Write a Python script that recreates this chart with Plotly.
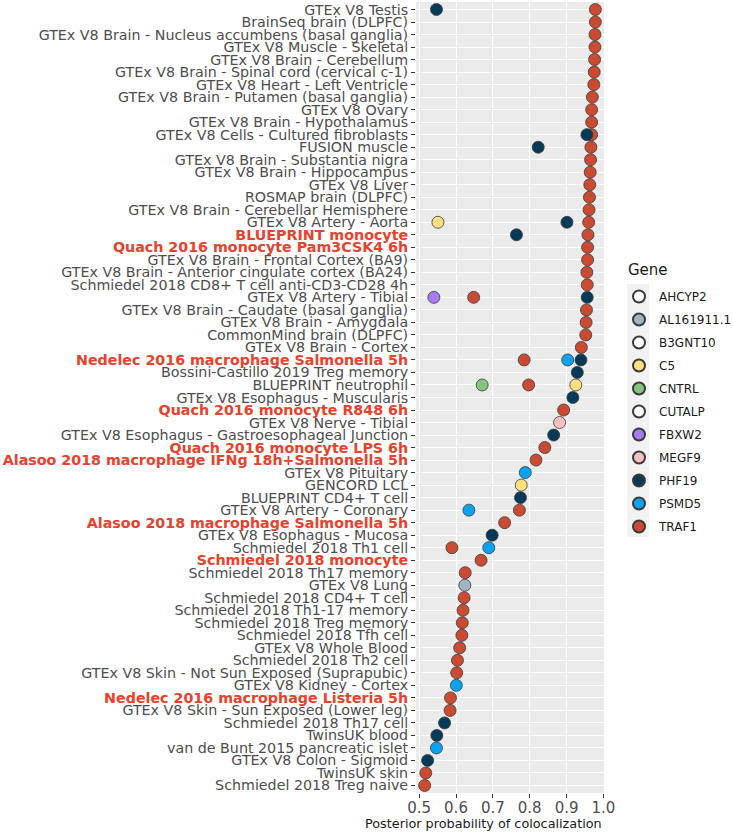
import plotly.graph_objects as go

# Study rows, top to bottom
studies = [
    "GTEx V8 Testis", "BrainSeq brain (DLPFC)", "GTEx V8 Brain - Nucleus accumbens (basal ganglia)",
    "GTEx V8 Muscle - Skeletal", "GTEx V8 Brain - Cerebellum", "GTEx V8 Brain - Spinal cord (cervical c-1)",
    "GTEx V8 Heart - Left Ventricle", "GTEx V8 Brain - Putamen (basal ganglia)", "GTEx V8 Ovary",
    "GTEx V8 Brain - Hypothalamus", "GTEx V8 Cells - Cultured fibroblasts", "FUSION muscle",
    "GTEx V8 Brain - Substantia nigra", "GTEx V8 Brain - Hippocampus", "GTEx V8 Liver",
    "ROSMAP brain (DLPFC)", "GTEx V8 Brain - Cerebellar Hemisphere", "GTEx V8 Artery - Aorta",
    "BLUEPRINT monocyte", "Quach 2016 monocyte Pam3CSK4 6h", "GTEx V8 Brain - Frontal Cortex (BA9)",
    "GTEx V8 Brain - Anterior cingulate cortex (BA24)", "Schmiedel 2018 CD8+ T cell anti-CD3-CD28 4h",
    "GTEx V8 Artery - Tibial", "GTEx V8 Brain - Caudate (basal ganglia)", "GTEx V8 Brain - Amygdala",
    "CommonMind brain (DLPFC)", "GTEx V8 Brain - Cortex", "Nedelec 2016 macrophage Salmonella 5h",
    "Bossini-Castillo 2019 Treg memory", "BLUEPRINT neutrophil", "GTEx V8 Esophagus - Muscularis",
    "Quach 2016 monocyte R848 6h", "GTEx V8 Nerve - Tibial", "GTEx V8 Esophagus - Gastroesophageal Junction",
    "Quach 2016 monocyte LPS 6h", "Alasoo 2018 macrophage IFNg 18h+Salmonella 5h", "GTEx V8 Pituitary",
    "GENCORD LCL", "BLUEPRINT CD4+ T cell", "GTEx V8 Artery - Coronary", "Alasoo 2018 macrophage Salmonella 5h",
    "GTEx V8 Esophagus - Mucosa", "Schmiedel 2018 Th1 cell", "Schmiedel 2018 monocyte",
    "Schmiedel 2018 Th17 memory", "GTEx V8 Lung", "Schmiedel 2018 CD4+ T cell", "Schmiedel 2018 Th1-17 memory",
    "Schmiedel 2018 Treg memory", "Schmiedel 2018 Tfh cell", "GTEx V8 Whole Blood", "Schmiedel 2018 Th2 cell",
    "GTEx V8 Skin - Not Sun Exposed (Suprapubic)", "GTEx V8 Kidney - Cortex", "Nedelec 2016 macrophage Listeria 5h",
    "GTEx V8 Skin - Sun Exposed (Lower leg)", "Schmiedel 2018 Th17 cell", "TwinsUK blood",
    "van de Bunt 2015 pancreatic islet", "GTEx V8 Colon - Sigmoid", "TwinsUK skin", "Schmiedel 2018 Treg naive",
]

highlighted = [
    "BLUEPRINT monocyte", "Quach 2016 monocyte Pam3CSK4 6h", "Nedelec 2016 macrophage Salmonella 5h",
    "Quach 2016 monocyte R848 6h", "Quach 2016 monocyte LPS 6h", "Alasoo 2018 macrophage IFNg 18h+Salmonella 5h",
    "Alasoo 2018 macrophage Salmonella 5h", "Schmiedel 2018 monocyte", "Nedelec 2016 macrophage Listeria 5h",
]

genes = ["AHCYP2", "AL161911.1", "B3GNT10", "C5", "CNTRL", "CUTALP", "FBXW2", "MEGF9", "PHF19", "PSMD5", "TRAF1"]
gene_colors = ["#FFFFFF", "#A0B4C4", "#FFFFFF", "#FFE07F", "#86C37E", "#FFFFFF",
               "#A97BF2", "#F8C0BE", "#063A57", "#0BA2F0", "#CB4A32"]

traf1_study = [studies[i] for i in [0, 1, 2, 3, 4, 5, 6, 7, 8, 9, 10, 11, 12, 13, 14, 15, 16, 17, 18, 19, 20, 21,
                                    22, 23, 24, 25, 26, 27, 28, 30, 32, 35, 36, 40, 41, 43, 44, 45, 47, 48, 49,
                                    50, 51, 52, 53, 55, 56, 61, 62]]
traf1_pp = [0.978, 0.978, 0.977, 0.977, 0.976, 0.975, 0.974, 0.970, 0.968, 0.968, 0.968, 0.966, 0.965, 0.964,
            0.963, 0.962, 0.961, 0.960, 0.958, 0.957, 0.957, 0.955, 0.956, 0.648, 0.954, 0.953, 0.952, 0.940,
            0.785, 0.797, 0.892, 0.841, 0.817, 0.772, 0.732, 0.589, 0.668, 0.625, 0.622, 0.619, 0.617, 0.616,
            0.610, 0.604, 0.602, 0.585, 0.584, 0.518, 0.515]

phf19_study = ["GTEx V8 Testis", "GTEx V8 Cells - Cultured fibroblasts", "FUSION muscle", "GTEx V8 Artery - Aorta",
               "BLUEPRINT monocyte", "GTEx V8 Artery - Tibial", "Nedelec 2016 macrophage Salmonella 5h",
               "Bossini-Castillo 2019 Treg memory", "GTEx V8 Esophagus - Muscularis",
               "GTEx V8 Esophagus - Gastroesophageal Junction", "BLUEPRINT CD4+ T cell", "GTEx V8 Esophagus - Mucosa",
               "Schmiedel 2018 Th17 cell", "TwinsUK blood", "GTEx V8 Colon - Sigmoid"]
phf19_pp = [0.547, 0.955, 0.823, 0.901, 0.764, 0.956, 0.939, 0.929, 0.917, 0.865, 0.775, 0.698, 0.569, 0.548, 0.523]

psmd5_study = ["Nedelec 2016 macrophage Salmonella 5h", "GTEx V8 Pituitary", "GTEx V8 Artery - Coronary",
               "Schmiedel 2018 Th1 cell", "GTEx V8 Kidney - Cortex", "van de Bunt 2015 pancreatic islet"]
psmd5_pp = [0.903, 0.788, 0.635, 0.689, 0.601, 0.547]

c5_study = ["GTEx V8 Artery - Aorta", "BLUEPRINT neutrophil", "GENCORD LCL"]
c5_pp = [0.551, 0.925, 0.777]

cntrl_study = ["BLUEPRINT neutrophil"]
cntrl_pp = [0.671]

fbxw2_study = ["GTEx V8 Artery - Tibial"]
fbxw2_pp = [0.540]

megf9_study = ["GTEx V8 Nerve - Tibial"]
megf9_pp = [0.881]

al161911_study = ["GTEx V8 Lung"]
al161911_pp = [0.624]

gene_data = {
    "AHCYP2": ([None], [None]),
    "AL161911.1": (al161911_study, al161911_pp),
    "B3GNT10": ([None], [None]),
    "C5": (c5_study, c5_pp),
    "CNTRL": (cntrl_study, cntrl_pp),
    "CUTALP": ([None], [None]),
    "FBXW2": (fbxw2_study, fbxw2_pp),
    "MEGF9": (megf9_study, megf9_pp),
    "PHF19": (phf19_study, phf19_pp),
    "PSMD5": (psmd5_study, psmd5_pp),
    "TRAF1": (traf1_study, traf1_pp),
}

x_ticks = [0.5, 0.6, 0.7, 0.8, 0.9, 1.0]

fig = go.Figure()

draw_order = ["TRAF1", "AHCYP2", "AL161911.1", "B3GNT10", "C5", "CNTRL", "CUTALP", "FBXW2", "MEGF9", "PHF19", "PSMD5"]
for g in draw_order:
    idx = genes.index(g)
    ys, xs = gene_data[g]
    fig.add_trace(go.Scatter(
        x=xs, y=ys, mode="markers", name=g,
        legendrank=idx + 1, legendgroup=g,
        marker=dict(size=12, color=gene_colors[idx], line=dict(color="#3a3a3a", width=0.8)),
        showlegend=True,
    ))

ticktext = []
for s in studies:
    if s in highlighted:
        ticktext.append(f"<b><span style='color:#E8412C'>{s}</span></b>")
    else:
        ticktext.append(s)

W, H = 733, 835
L, R, T, B = 416, 129, 2, 42
pw = W - L - R
ph = H - T - B

def px_x(p):
    return (p - L) / pw

def px_y(p):
    return 1 - (p - T) / ph

fig.update_layout(
    width=W, height=H,
    margin=dict(l=L, r=R, t=T, b=B, pad=0, autoexpand=False),
    paper_bgcolor="white",
    plot_bgcolor="#EBEBEB",
    font=dict(family="DejaVu Sans", color="#4D4D4D"),
    xaxis=dict(
        range=[0.4915, 1.0015], tickvals=x_ticks, ticktext=[f"{v:.1f}" for v in x_ticks],
        showgrid=True, gridcolor="white", gridwidth=1.3, zeroline=False,
        ticks="outside", ticklen=4, tickcolor="#333333", tickwidth=1,
        ticklabelstandoff=-3,
        tickfont=dict(size=15, color="#4D4D4D", family="DejaVu Sans"),
        showline=False,
    ),
    yaxis=dict(
        type="category", categoryorder="array", categoryarray=studies[::-1],
        tickvals=studies, ticktext=ticktext,
        range=[-0.6, len(studies) - 0.4],
        showgrid=True, gridcolor="white", gridwidth=1, zeroline=False,
        ticks="outside", ticklen=4, tickcolor="#333333", tickwidth=1,
        tickfont=dict(size=14.25, color="#4D4D4D", family="DejaVu Sans"),
        showline=False,
    ),
    legend=dict(
        x=px_x(619), y=px_y(282), xanchor="left", yanchor="top",
        font=dict(size=12, color="#1A1A1A", family="DejaVu Sans"),
        bgcolor="rgba(0,0,0,0)", tracegroupgap=4, itemsizing="constant",
        traceorder="grouped",
    ),
    showlegend=True,
    annotations=[
        dict(
            text="Posterior probability of colocalization", xref="paper", yref="paper",
            x=px_x(483), y=px_y(823), xanchor="center", yanchor="middle", showarrow=False,
            font=dict(size=12.8, color="#1A1A1A", family="DejaVu Sans"),
        ),
        dict(
            text="Gene", xref="paper", yref="paper",
            x=px_x(626), y=px_y(270), xanchor="left", yanchor="middle", showarrow=False,
            font=dict(size=15, color="#1A1A1A", family="DejaVu Sans"),
        ),
    ],
    shapes=[dict(
        type="rect", xref="paper", yref="paper", layer="below",
        x0=px_x(627), x1=px_x(649), y0=px_y(537), y1=px_y(284),
        fillcolor="#F2F2F2", line=dict(width=0),
    )],
)

fig.write_html("out.html", config={"displayModeBar": False},
               post_script="document.body.style.margin='0';")
